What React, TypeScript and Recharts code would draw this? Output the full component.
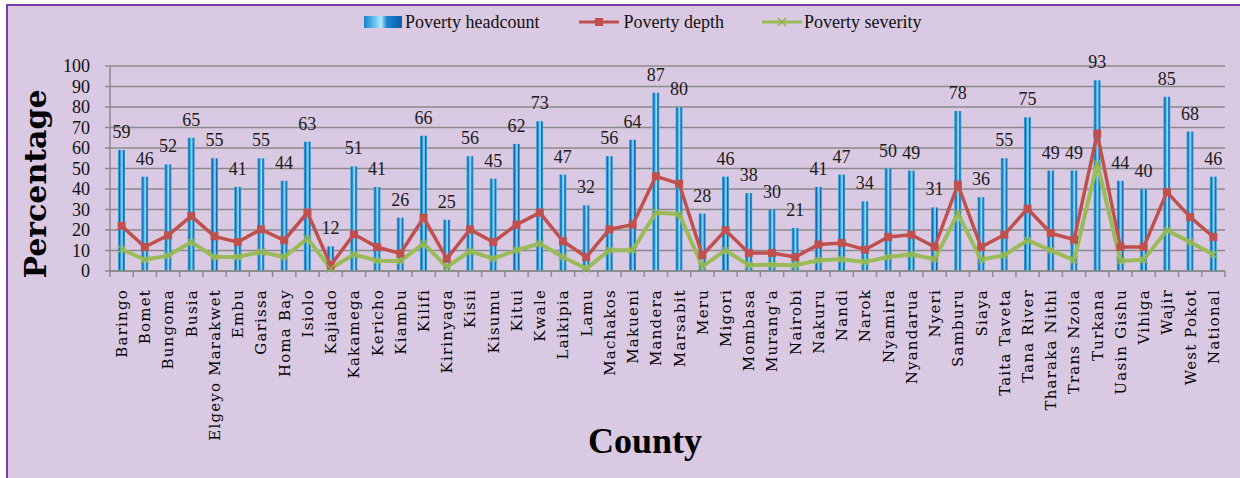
import {
  Bar,
  CartesianGrid,
  ComposedChart,
  LabelList,
  Line,
  XAxis,
  YAxis,
} from "recharts";

const counties = [
  "Baringo", "Bomet", "Bungoma", "Busia", "Elgeyo Marakwet", "Embu", "Garissa", "Homa Bay",
  "Isiolo", "Kajiado", "Kakamega", "Kericho", "Kiambu", "Kilifi", "Kirinyaga", "Kisii",
  "Kisumu", "Kitui", "Kwale", "Laikipia", "Lamu", "Machakos", "Makueni", "Mandera",
  "Marsabit", "Meru", "Migori", "Mombasa", "Murang'a", "Nairobi", "Nakuru", "Nandi",
  "Narok", "Nyamira", "Nyandarua", "Nyeri", "Samburu", "Siaya", "Taita Taveta", "Tana River",
  "Tharaka Nithi", "Trans Nzoia", "Turkana", "Uasin Gishu", "Vihiga", "Wajir", "West Pokot", "National",
];

const headcount = [
  59, 46, 52, 65, 55, 41, 55, 44, 63, 12, 51, 41, 26, 66, 25, 56,
  45, 62, 73, 47, 32, 56, 64, 87, 80, 28, 46, 38, 30, 21, 41, 47,
  34, 50, 49, 31, 78, 36, 55, 75, 49, 49, 93, 44, 40, 85, 68, 46,
];

const depth = [
  22, 11.7, 17.4, 26.8, 16.9, 14.1, 20.3, 15, 28.5, 2.8, 17.9, 11.7, 8.5, 26, 6, 20.3,
  14.1, 22.6, 28.5, 14.5, 6.8, 20.3, 22.6, 46.2, 42.6, 7.7, 19.9, 8.8, 8.8, 6.8, 12.9, 13.7,
  10.4, 16.6, 17.7, 11.7, 42.1, 11.7, 17.7, 30.4, 18.5, 15.3, 67, 11.7, 11.7, 38.5, 26.3, 16.6,
];

const severity = [
  10.6, 5.5, 7.5, 14.1, 6.8, 6.8, 9.3, 6.8, 15.8, 1.2, 8.1, 5, 4.9, 13.4, 2, 9.6,
  6, 10.1, 13.4, 6.8, 1.2, 10.1, 10.1, 28.5, 27.7, 2.3, 10.1, 2.8, 3.1, 2.8, 5.2, 5.7,
  4.4, 6.8, 8.1, 5.7, 28, 5.5, 7.7, 15, 10.1, 5.2, 52.4, 4.9, 5.5, 19.9, 14.1, 8.1,
];

const yTicks = [0, 10, 20, 30, 40, 50, 60, 70, 80, 90, 100];

const data = counties.map((county, i) => ({
  county,
  headcount: headcount[i],
  depth: depth[i],
  severity: severity[i],
}));

const RED = "#C0504D";
const GREEN = "#9BBB59";
const GRID = "#8a8a8a";

const W = 1240;
const H = 478;
const margin = { top: 66, right: 15, bottom: 7, left: 0 };
const yAxisWidth = 110;

function CountyTick(props: any) {
  const { x, y, payload, index } = props;
  const half =
    payload?.offset || (W - margin.left - margin.right - yAxisWidth) / counties.length / 2;
  return (
    <g transform={`translate(${x},${y})`}>
      <line x1={-half} x2={-half} y1={0} y2={6} stroke={GRID} strokeWidth={1.5} />
      {index === counties.length - 1 && (
        <line x1={half} x2={half} y1={0} y2={6} stroke={GRID} strokeWidth={1.5} />
      )}
      <text
        transform="rotate(-90)"
        x={-18}
        y={0}
        dy="0.36em"
        textAnchor="end"
        fontFamily="DejaVu Serif"
        fontSize={15}
        letterSpacing={1.2}
        fill="#000"
      >
        {payload.value}
      </text>
    </g>
  );
}

const SquareDot = (p: any) =>
  p.cx == null ? null : (
    <rect key={`sq-${p.index}`} x={p.cx - 4} y={p.cy - 4} width={8} height={8} fill={RED} />
  );

const CrossDot = (p: any) =>
  p.cx == null ? null : (
    <path
      key={`x-${p.index}`}
      d={`M${p.cx - 4},${p.cy - 4}L${p.cx + 4},${p.cy + 4}M${p.cx - 4},${p.cy + 4}L${p.cx + 4},${p.cy - 4}`}
      stroke="#8fb34a"
      strokeWidth={1.4}
    />
  );

function Legend() {
  const text = {
    fontFamily: "Liberation Serif",
    fontSize: 18,
    color: "#111",
    whiteSpace: "nowrap" as const,
  };
  return (
    <div
      style={{
        position: "absolute",
        left: 364,
        top: 11,
        display: "flex",
        alignItems: "center",
        height: 22,
      }}
    >
      <div
        style={{
          width: 38,
          height: 12,
          background:
            "linear-gradient(90deg,#1a7fcf 0%,#6cc8f0 30%,#b8e6fa 45%,#1b86d0 60%,#0b5fa8 100%)",
        }}
      />
      <span style={{ ...text, marginLeft: 3 }}>Poverty headcount</span>
      <svg width={40} height={12} style={{ marginLeft: 40 }}>
        <line x1={0} x2={40} y1={6} y2={6} stroke={RED} strokeWidth={3} />
        <rect x={16} y={2} width={8} height={8} fill={RED} />
      </svg>
      <span style={{ ...text, marginLeft: 4 }}>Poverty depth</span>
      <svg width={40} height={12} style={{ marginLeft: 38 }}>
        <line x1={0} x2={40} y1={6} y2={6} stroke={GREEN} strokeWidth={3} />
        <path d="M16,2L24,10M16,10L24,2" stroke="#8fb34a" strokeWidth={1.4} />
      </svg>
      <span style={{ ...text, marginLeft: 2 }}>Poverty severity</span>
    </div>
  );
}

export default function App() {
  return (
    <div style={{ position: "relative", width: W, height: H, overflow: "hidden", background: "#fff" }}>
      <style>{"body{margin:0}"}</style>
      <div
        style={{
          position: "absolute",
          left: 6,
          top: 4,
          width: W,
          height: H,
          background: "#DAC9E3",
          border: "2px solid #7B3AA6",
        }}
      />
      <div style={{ position: "absolute", left: 0, top: 0 }}>
        <ComposedChart width={W} height={H} data={data} margin={margin}>
          <defs>
            <linearGradient id="hcFill" x1="0" y1="0" x2="1" y2="0">
              <stop offset="0%" stopColor="#45b4ea" />
              <stop offset="22%" stopColor="#0e66b0" />
              <stop offset="45%" stopColor="#58c4f0" />
              <stop offset="60%" stopColor="#9fdcf7" />
              <stop offset="78%" stopColor="#0e66b0" />
              <stop offset="100%" stopColor="#3aa8e2" />
            </linearGradient>
          </defs>
          <CartesianGrid vertical={false} stroke={GRID} strokeWidth={1.5} />
          <XAxis
            dataKey="county"
            interval={0}
            height={200}
            tickSize={0}
            tickMargin={0}
            tickLine={false}
            axisLine={{ stroke: GRID, strokeWidth: 1.5 }}
            tick={<CountyTick />}
          />
          <YAxis
            width={yAxisWidth}
            domain={[0, 100]}
            ticks={yTicks}
            interval={0}
            tickSize={5}
            tickMargin={15}
            axisLine={{ stroke: GRID, strokeWidth: 1.5 }}
            tickLine={{ stroke: GRID, strokeWidth: 1.5 }}
            tick={{ fontFamily: "Liberation Serif", fontSize: 18, fill: "#111" }}
          />
          <Bar dataKey="headcount" barSize={7} fill="url(#hcFill)" isAnimationActive={false}>
            <LabelList
              dataKey="headcount"
              position="top"
              offset={12}
              style={{ fontFamily: "Liberation Serif", fontSize: 18, fill: "#1a1a1a" }}
            />
          </Bar>
          <Line
            type="linear"
            dataKey="depth"
            stroke={RED}
            strokeWidth={3.5}
            dot={SquareDot}
            activeDot={false}
            isAnimationActive={false}
          />
          <Line
            type="linear"
            dataKey="severity"
            stroke={GREEN}
            strokeWidth={4}
            dot={CrossDot}
            activeDot={false}
            isAnimationActive={false}
          />
        </ComposedChart>
      </div>
      <Legend />
      <svg
        width={W}
        height={H}
        style={{ position: "absolute", left: 0, top: 0, pointerEvents: "none" }}
      >
        <text
          transform="translate(46,184) rotate(-90)"
          textAnchor="middle"
          fontFamily="DejaVu Serif"
          fontWeight="bold"
          fontSize={30}
          fill="#000"
        >
          Percentage
        </text>
        <text
          x={645}
          y={453}
          textAnchor="middle"
          fontFamily="Liberation Serif"
          fontWeight="bold"
          fontSize={36}
          fill="#000"
        >
          County
        </text>
      </svg>
    </div>
  );
}
